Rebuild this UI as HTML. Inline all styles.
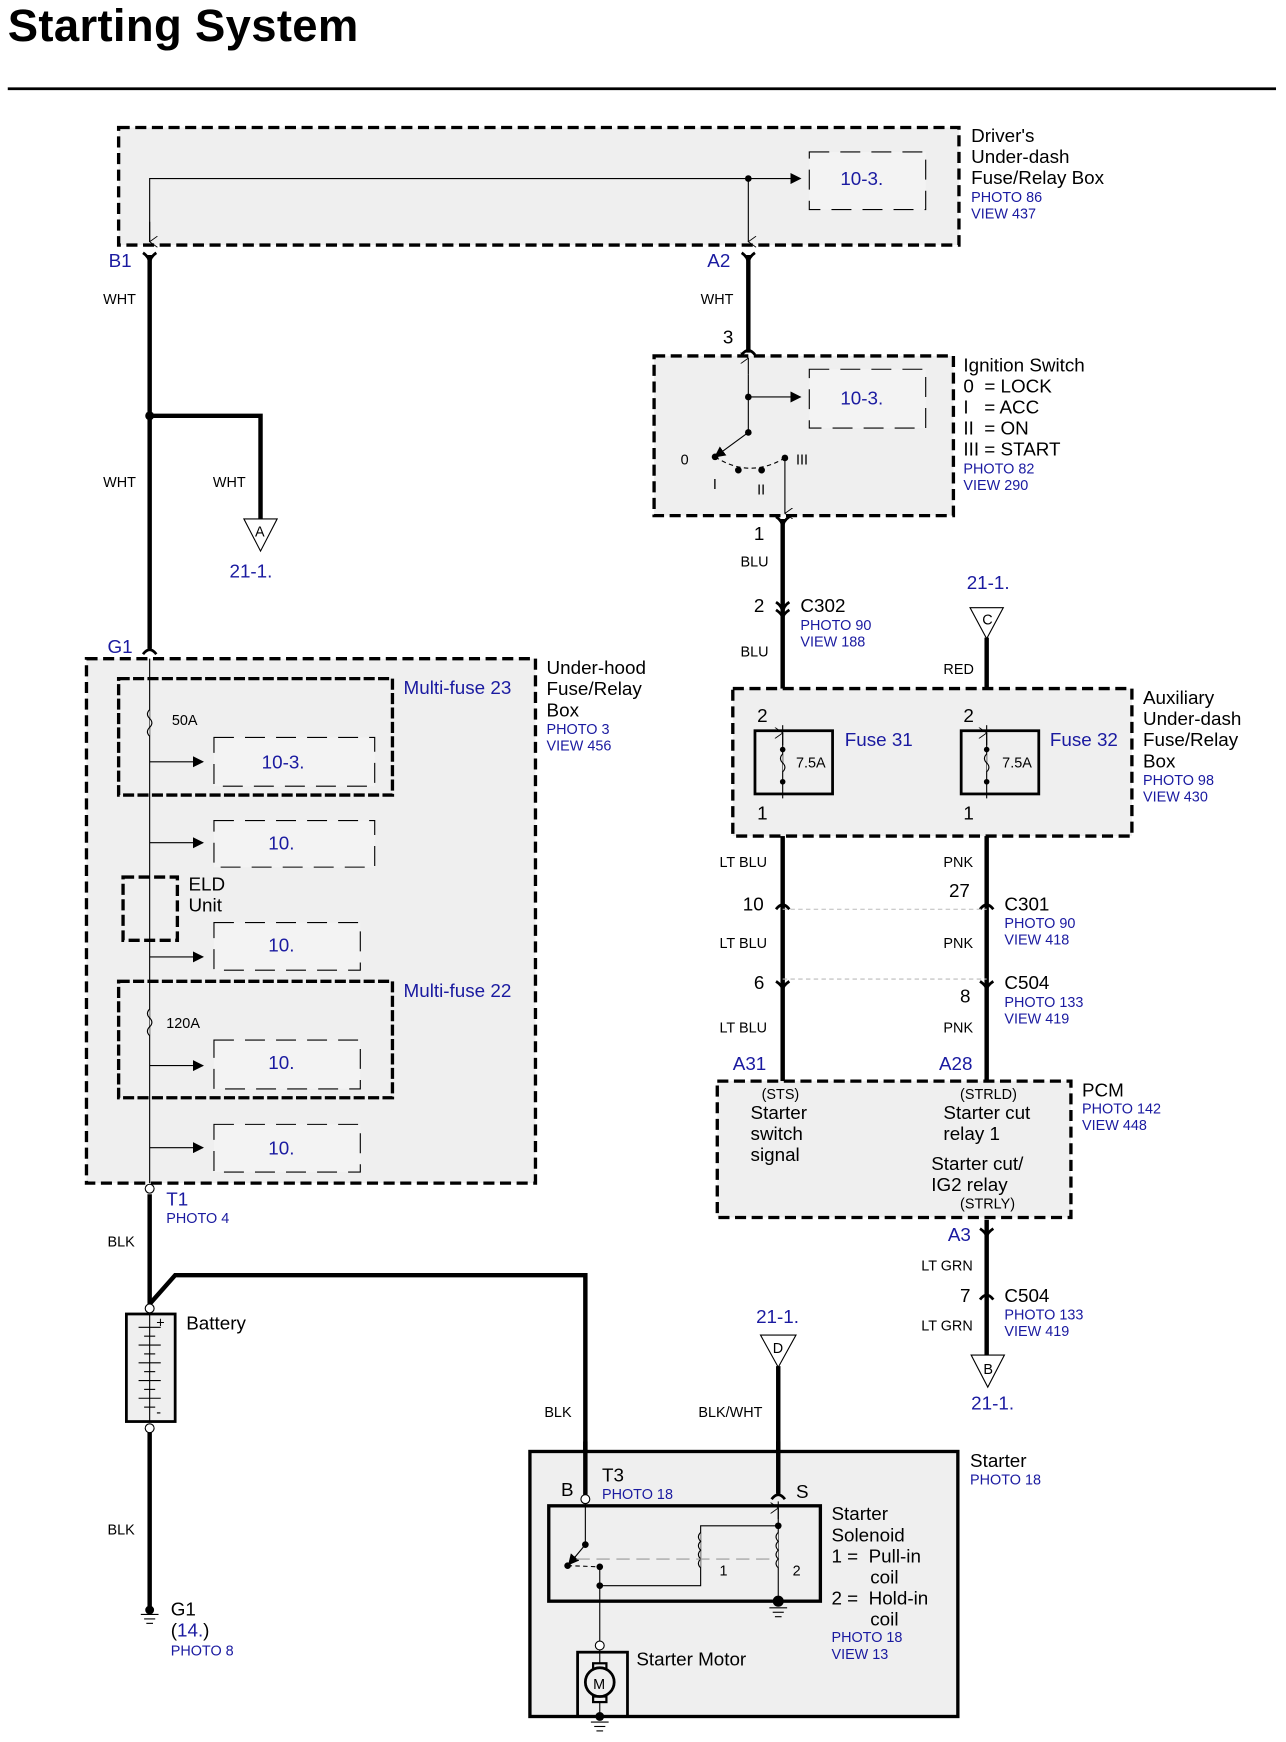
<!DOCTYPE html>
<html><head><meta charset="utf-8"><style>
html,body{margin:0;padding:0;background:#fff}
svg{display:block}
text{font-family:"Liberation Sans",Arial,sans-serif;fill:#000}
.b{fill:#1a1aa0}
.s{font-size:13px}
.m{font-size:17px}
.w{font-size:13px}
.pre{white-space:pre}
</style></head><body>
<svg width="1286" height="1742" viewBox="0 0 1160 1571" preserveAspectRatio="none" xmlns="http://www.w3.org/2000/svg">
<defs>
<marker id="ar" markerWidth="10" markerHeight="10" refX="9" refY="5" orient="auto" markerUnits="userSpaceOnUse"><path d="M0,0 L10,5 L0,10 z" fill="#000"/></marker>
<marker id="oa" markerWidth="10" markerHeight="10" refX="5" refY="9" orient="auto" markerUnits="userSpaceOnUse"><path d="M0,2 L5,9 L10,2" fill="none" stroke="#000" stroke-width="0.8"/></marker>
</defs>
<text x="7" y="37" style="font-size:41px;font-weight:bold;letter-spacing:0.3px">Starting System</text>
<line x1="7" y1="80" x2="1151" y2="80" stroke="#000" stroke-width="2.5"/>

<!-- Driver's box -->
<rect x="107" y="115" width="758" height="106" fill="#efefef" stroke="#000" stroke-width="3" stroke-dasharray="10,5"/>
<polyline points="135,218 135,161 722,161" fill="none" stroke="#000" stroke-width="1" marker-end="url(#ar)"/>
<line x1="135" y1="200" x2="135" y2="218" stroke="#000" marker-end="url(#oa)"/>
<line x1="675" y1="161" x2="675" y2="218" stroke="#000" marker-end="url(#oa)"/>
<circle cx="675" cy="161" r="3"/>
<rect x="730" y="137" width="105" height="52" fill="#f3f3f3" stroke="#000" stroke-dasharray="18,10"/>
<text x="758" y="167" class="m b">10-3.</text>
<text x="876" y="128" class="m">Driver's</text>
<text x="876" y="147" class="m">Under-dash</text>
<text x="876" y="166" class="m">Fuse/Relay Box</text>
<text x="876" y="182" class="s b">PHOTO 86</text>
<text x="876" y="197" class="s b">VIEW 437</text>
<text x="98" y="241" class="m b">B1</text>
<text x="638" y="241" class="m b">A2</text>

<g stroke="#000" stroke-width="4" fill="none">
<line x1="135" y1="230" x2="135" y2="585"/>
<polyline points="135,375 235,375 235,468"/>
<line x1="675" y1="230" x2="675" y2="318"/>
<line x1="706" y1="468" x2="706" y2="655"/>
<line x1="890" y1="575" x2="890" y2="655"/>
<line x1="706" y1="718" x2="706" y2="975"/>
<line x1="890" y1="718" x2="890" y2="975"/>
<line x1="890" y1="1100" x2="890" y2="1222"/>
<line x1="702" y1="1232" x2="702" y2="1345"/>
<line x1="135" y1="1077" x2="135" y2="1178"/>
<polyline points="135,1176 158,1150 528,1150 528,1348"/>
<line x1="135" y1="1292" x2="135" y2="1450"/>
</g>
<g stroke="#000" stroke-width="2.5" fill="none">
<path d="M129,228 Q135,232 135,238 Q135,232 141,228"/>
<path d="M669,228 Q675,232 675,238 Q675,232 681,228"/>
<path d="M129,590 Q135,582 141,590"/>
<path d="M669,320 Q675,312 681,320"/>
<path d="M700,466 Q706,470 706,476 Q706,470 712,466"/>
<path d="M700,543 Q706,547 706,553 Q706,547 712,543 M700,550 Q706,554 706,558 Q706,554 712,550"/>
<path d="M700,820 Q706,812 712,820 M884,820 Q890,812 896,820"/>
<path d="M700,885 Q706,889 706,893 Q706,889 712,885 M884,885 Q890,889 890,893 Q890,889 896,885"/>
<path d="M884,1108 Q890,1112 890,1116 Q890,1112 896,1108"/>
<path d="M884,1172 Q890,1164 896,1172"/>
<path d="M696,1352 Q702,1344 708,1352"/>
</g>
<line x1="706" y1="820" x2="890" y2="820" stroke="#bbb" stroke-dasharray="4,3"/>
<line x1="706" y1="883" x2="890" y2="883" stroke="#bbb" stroke-dasharray="4,3"/>
<circle cx="135" cy="375" r="4"/>

<text x="93" y="274" class="w">WHT</text>
<text x="632" y="274" class="w">WHT</text>
<text x="93" y="439" class="w">WHT</text>
<text x="192" y="439" class="w">WHT</text>
<path d="M220,468 L250,468 L235,497 z" fill="#fff" stroke="#000"/>
<text x="230" y="484" class="s">A</text>
<text x="207" y="521" class="m b">21-1.</text>
<text x="97" y="589" class="m b">G1</text>

<!-- Under-hood box -->
<rect x="78" y="594" width="405" height="473" fill="#efefef" stroke="#000" stroke-width="3" stroke-dasharray="10,5"/>
<line x1="135" y1="594" x2="135" y2="1067" stroke="#000"/>
<rect x="107" y="612" width="247" height="105" fill="none" stroke="#000" stroke-width="3" stroke-dasharray="10,3"/>
<rect x="107" y="885" width="247" height="105" fill="none" stroke="#000" stroke-width="3" stroke-dasharray="10,3"/>
<rect x="111" y="791" width="49" height="57" fill="none" stroke="#000" stroke-width="3" stroke-dasharray="10,4"/>
<path d="M135,640 q-4,4 0,8 q4,4 0,8 q-4,4 0,8" fill="#efefef" stroke="#000"/>
<path d="M135,910 q-4,4 0,8 q4,4 0,8 q-4,4 0,8" fill="#efefef" stroke="#000"/>
<text x="155" y="654" class="s">50A</text>
<text x="150" y="927" class="s">120A</text>
<g stroke="#000" fill="none">
<line x1="135" y1="687" x2="183" y2="687" marker-end="url(#ar)"/>
<line x1="135" y1="760" x2="183" y2="760" marker-end="url(#ar)"/>
<line x1="135" y1="863" x2="183" y2="863" marker-end="url(#ar)"/>
<line x1="135" y1="961" x2="183" y2="961" marker-end="url(#ar)"/>
<line x1="135" y1="1035" x2="183" y2="1035" marker-end="url(#ar)"/>
</g>
<g fill="#f3f3f3" stroke="#000" stroke-dasharray="18,10">
<rect x="193" y="665" width="145" height="44"/>
<rect x="193" y="740" width="145" height="42"/>
<rect x="193" y="832" width="132" height="43"/>
<rect x="193" y="938" width="132" height="44"/>
<rect x="193" y="1014" width="132" height="43"/>
</g>
<text x="236" y="693" class="m b">10-3.</text>
<text x="242" y="766" class="m b">10.</text>
<text x="242" y="858" class="m b">10.</text>
<text x="242" y="964" class="m b">10.</text>
<text x="242" y="1041" class="m b">10.</text>
<text x="364" y="626" class="m b">Multi-fuse 23</text>
<text x="364" y="899" class="m b">Multi-fuse 22</text>
<text x="170" y="803" class="m">ELD</text>
<text x="170" y="822" class="m">Unit</text>
<text x="493" y="608" class="m">Under-hood</text>
<text x="493" y="627" class="m">Fuse/Relay</text>
<text x="493" y="646" class="m">Box</text>
<text x="493" y="662" class="s b">PHOTO 3</text>
<text x="493" y="677" class="s b">VIEW 456</text>

<circle cx="135" cy="1072" r="4" fill="#fff" stroke="#000"/>
<text x="150" y="1087" class="m b">T1</text>
<text x="150" y="1103" class="s b">PHOTO 4</text>
<text x="97" y="1124" class="w">BLK</text>
<rect x="114" y="1185" width="44" height="97" fill="#efefef" stroke="#000" stroke-width="2.5"/>
<g stroke="#000">
<line x1="135" y1="1185" x2="135" y2="1282"/>
<line x1="125" y1="1197" x2="145" y2="1197"/><line x1="130" y1="1205" x2="140" y2="1205"/>
<line x1="125" y1="1213" x2="145" y2="1213"/><line x1="130" y1="1221" x2="140" y2="1221"/>
<line x1="125" y1="1229" x2="145" y2="1229"/><line x1="130" y1="1237" x2="140" y2="1237"/>
<line x1="125" y1="1245" x2="145" y2="1245"/><line x1="130" y1="1253" x2="140" y2="1253"/>
<line x1="125" y1="1261" x2="145" y2="1261"/><line x1="130" y1="1269" x2="140" y2="1269"/>
</g>
<text x="141" y="1197" class="s">+</text><text x="141" y="1278" class="s">-</text>
<circle cx="135" cy="1180" r="4" fill="#fff" stroke="#000"/>
<circle cx="135" cy="1288" r="4" fill="#fff" stroke="#000"/>
<text x="168" y="1199" class="m">Battery</text>
<text x="97" y="1384" class="w">BLK</text>
<circle cx="135" cy="1452" r="4"/>
<g stroke="#000"><line x1="127" y1="1456" x2="143" y2="1456"/><line x1="130" y1="1460" x2="140" y2="1460"/><line x1="132" y1="1464" x2="138" y2="1464"/></g>
<text x="154" y="1457" class="m">G1</text>
<text x="154" y="1476" class="m">(<tspan class="b">14.</tspan>)</text>
<text x="154" y="1493" class="s b">PHOTO 8</text>

<!-- Ignition -->
<text x="652" y="310" class="m">3</text>
<rect x="590" y="321" width="270" height="144" fill="#efefef" stroke="#000" stroke-width="3" stroke-dasharray="10,5"/>
<g stroke="#000" fill="none">
<line x1="675" y1="338" x2="675" y2="323" marker-end="url(#oa)"/>
<line x1="675" y1="338" x2="675" y2="390"/>
<line x1="675" y1="358" x2="722" y2="358" marker-end="url(#ar)"/>
<line x1="675" y1="390" x2="645" y2="412" marker-end="url(#ar)"/>
<path d="M645,412 Q676,432 708,413" stroke-dasharray="4,3"/>
<line x1="708" y1="413" x2="708" y2="463" marker-end="url(#oa)"/>
</g>
<circle cx="675" cy="358" r="3"/><circle cx="675" cy="390" r="3"/><circle cx="645" cy="412" r="3"/>
<circle cx="666" cy="424" r="3"/><circle cx="687" cy="424" r="3"/><circle cx="708" cy="413" r="3"/>
<rect x="730" y="333" width="105" height="53" fill="#f3f3f3" stroke="#000" stroke-dasharray="18,10"/>
<text x="758" y="365" class="m b">10-3.</text>
<text x="614" y="419" class="s">0</text><text x="643" y="441" class="s">I</text>
<text x="683" y="446" class="s">II</text><text x="718" y="419" class="s">III</text>
<text x="869" y="335" class="m">Ignition Switch</text>
<text x="869" y="354" class="m pre">0  = LOCK</text>
<text x="869" y="373" class="m pre">I   = ACC</text>
<text x="869" y="392" class="m pre">II  = ON</text>
<text x="869" y="411" class="m pre">III = START</text>
<text x="869" y="427" class="s b">PHOTO 82</text>
<text x="869" y="442" class="s b">VIEW 290</text>

<text x="680" y="487" class="m">1</text>
<text x="668" y="511" class="w">BLU</text>
<text x="680" y="552" class="m">2</text>
<text x="722" y="552" class="m">C302</text>
<text x="722" y="568" class="s b">PHOTO 90</text>
<text x="722" y="583" class="s b">VIEW 188</text>
<text x="668" y="592" class="w">BLU</text>
<text x="872" y="531" class="m b">21-1.</text>
<path d="M875,548 L905,548 L890,576 z" fill="#fff" stroke="#000"/>
<text x="886" y="563" class="s">C</text>
<text x="851" y="608" class="w">RED</text>

<!-- Aux box -->
<rect x="661" y="621" width="360" height="133" fill="#efefef" stroke="#000" stroke-width="3" stroke-dasharray="10,5"/>
<rect x="681" y="659" width="70" height="57" fill="none" stroke="#000" stroke-width="2.5"/>
<rect x="867" y="659" width="70" height="57" fill="none" stroke="#000" stroke-width="2.5"/>
<g stroke="#000" fill="none">
<line x1="706" y1="654" x2="706" y2="720"/><line x1="890" y1="654" x2="890" y2="720"/>
<path d="M706,680 q-4,4 0,8 q4,4 0,8" fill="#efefef"/>
<path d="M890,680 q-4,4 0,8 q4,4 0,8" fill="#efefef"/>
<line x1="706" y1="672" x2="706" y2="661" marker-end="url(#oa)"/>
<line x1="890" y1="672" x2="890" y2="661" marker-end="url(#oa)"/>
</g>
<circle cx="706" cy="676" r="2.5"/><circle cx="706" cy="705" r="2.5"/>
<circle cx="890" cy="676" r="2.5"/><circle cx="890" cy="705" r="2.5"/>
<text x="683" y="651" class="m">2</text><text x="683" y="739" class="m">1</text>
<text x="869" y="651" class="m">2</text><text x="869" y="739" class="m">1</text>
<text x="718" y="692" class="s">7.5A</text><text x="904" y="692" class="s">7.5A</text>
<text x="762" y="673" class="m b">Fuse 31</text>
<text x="947" y="673" class="m b">Fuse 32</text>
<text x="1031" y="635" class="m">Auxiliary</text>
<text x="1031" y="654" class="m">Under-dash</text>
<text x="1031" y="673" class="m">Fuse/Relay</text>
<text x="1031" y="692" class="m">Box</text>
<text x="1031" y="708" class="s b">PHOTO 98</text>
<text x="1031" y="723" class="s b">VIEW 430</text>

<text x="649" y="782" class="w">LT BLU</text><text x="851" y="782" class="w">PNK</text>
<text x="670" y="821" class="m">10</text><text x="856" y="809" class="m">27</text>
<text x="906" y="821" class="m">C301</text>
<text x="906" y="837" class="s b">PHOTO 90</text>
<text x="906" y="852" class="s b">VIEW 418</text>
<text x="649" y="855" class="w">LT BLU</text><text x="851" y="855" class="w">PNK</text>
<text x="680" y="892" class="m">6</text><text x="866" y="904" class="m">8</text>
<text x="906" y="892" class="m">C504</text>
<text x="906" y="908" class="s b">PHOTO 133</text>
<text x="906" y="923" class="s b">VIEW 419</text>
<text x="649" y="931" class="w">LT BLU</text><text x="851" y="931" class="w">PNK</text>
<text x="661" y="965" class="m b">A31</text><text x="847" y="965" class="m b">A28</text>

<!-- PCM -->
<rect x="647" y="975" width="319" height="123" fill="#efefef" stroke="#000" stroke-width="3" stroke-dasharray="10,5"/>
<text x="687" y="991" class="s">(STS)</text>
<text x="677" y="1009" class="m">Starter</text>
<text x="677" y="1028" class="m">switch</text>
<text x="677" y="1047" class="m">signal</text>
<text x="866" y="991" class="s">(STRLD)</text>
<text x="851" y="1009" class="m">Starter cut</text>
<text x="851" y="1028" class="m">relay 1</text>
<text x="840" y="1055" class="m">Starter cut/</text>
<text x="840" y="1074" class="m">IG2 relay</text>
<text x="866" y="1090" class="s">(STRLY)</text>
<text x="976" y="989" class="m">PCM</text>
<text x="976" y="1004" class="s b">PHOTO 142</text>
<text x="976" y="1019" class="s b">VIEW 448</text>
<text x="855" y="1119" class="m b">A3</text>
<text x="831" y="1146" class="w">LT GRN</text>
<text x="866" y="1174" class="m">7</text>
<text x="906" y="1174" class="m">C504</text>
<text x="906" y="1190" class="s b">PHOTO 133</text>
<text x="906" y="1205" class="s b">VIEW 419</text>
<text x="831" y="1200" class="w">LT GRN</text>
<path d="M876,1222 L906,1222 L891,1251 z" fill="#fff" stroke="#000"/>
<text x="887" y="1239" class="s">B</text>
<text x="876" y="1271" class="m b">21-1.</text>

<text x="682" y="1193" class="m b">21-1.</text>
<path d="M686,1204 L718,1204 L702,1233 z" fill="#fff" stroke="#000"/>
<text x="697" y="1220" class="s">D</text>
<text x="630" y="1278" class="w">BLK/WHT</text>
<text x="491" y="1278" class="w">BLK</text>

<!-- Starter -->
<rect x="478" y="1309" width="386" height="239" fill="#efefef" stroke="#000" stroke-width="3"/>
<line x1="528" y1="1300" x2="528" y2="1348" stroke="#000" stroke-width="4"/>
<line x1="702" y1="1300" x2="702" y2="1347" stroke="#000" stroke-width="4"/>
<path d="M696,1352 Q702,1344 708,1352" stroke="#000" stroke-width="2.5" fill="none"/>
<text x="875" y="1323" class="m">Starter</text>
<text x="875" y="1339" class="s b">PHOTO 18</text>
<text x="506" y="1349" class="m">B</text>
<text x="543" y="1336" class="m">T3</text>
<text x="543" y="1352" class="s b">PHOTO 18</text>
<text x="718" y="1351" class="m">S</text>
<rect x="495" y="1358" width="245" height="86" fill="none" stroke="#000" stroke-width="3"/>
<g stroke="#000" fill="none">
<line x1="528" y1="1356" x2="528" y2="1393"/>
<line x1="528" y1="1393" x2="513" y2="1411" marker-end="url(#ar)"/>
<path d="M512,1412 L541,1413" stroke-dasharray="4,3"/>
<line x1="541" y1="1413" x2="541" y2="1480"/>
<polyline points="541,1430 632,1430 632,1376 702,1376"/>
<line x1="702" y1="1354" x2="702" y2="1444"/>
<line x1="702" y1="1370" x2="702" y2="1360" marker-end="url(#oa)"/>
<path d="M632,1382 q-4,4 0,8 q-4,4 0,8 q-4,4 0,8 q-4,4 0,8" fill="#efefef"/>
<path d="M702,1382 q-4,4 0,8 q-4,4 0,8 q-4,4 0,8 q-4,4 0,8" fill="#efefef"/>
<line x1="520" y1="1406" x2="700" y2="1406" stroke="#999" stroke-dasharray="12,6"/>
</g>
<circle cx="528" cy="1352" r="4" fill="#fff" stroke="#000"/>
<circle cx="528" cy="1393" r="3"/><circle cx="512" cy="1412" r="3"/><circle cx="541" cy="1413" r="3"/>
<circle cx="541" cy="1430" r="3"/><circle cx="702" cy="1376" r="3"/><circle cx="702" cy="1444" r="5"/>
<g stroke="#000"><line x1="694" y1="1450" x2="710" y2="1450"/><line x1="697" y1="1454" x2="707" y2="1454"/><line x1="699" y1="1458" x2="705" y2="1458"/></g>
<text x="649" y="1421" class="s">1</text><text x="715" y="1421" class="s">2</text>
<text x="750" y="1371" class="m">Starter</text>
<text x="750" y="1390" class="m">Solenoid</text>
<text x="750" y="1409" class="m pre">1 =  Pull-in</text>
<text x="785" y="1428" class="m">coil</text>
<text x="750" y="1447" class="m pre">2 =  Hold-in</text>
<text x="785" y="1466" class="m">coil</text>
<text x="750" y="1481" class="s b">PHOTO 18</text>
<text x="750" y="1496" class="s b">VIEW 13</text>
<circle cx="541" cy="1484" r="4" fill="#fff" stroke="#000"/>
<rect x="521" y="1490" width="45" height="58" fill="none" stroke="#000" stroke-width="2.5"/>
<line x1="541" y1="1488" x2="541" y2="1548" stroke="#000"/>
<rect x="535" y="1500" width="12" height="5" fill="#efefef" stroke="#000" stroke-width="2"/>
<rect x="535" y="1530" width="12" height="5" fill="#efefef" stroke="#000" stroke-width="2"/>
<circle cx="541" cy="1517" r="13" fill="#efefef" stroke="#000" stroke-width="2.5"/>
<text x="535" y="1523" class="s">M</text>
<circle cx="541" cy="1548" r="4"/>
<g stroke="#000"><line x1="533" y1="1553" x2="549" y2="1553"/><line x1="536" y1="1557" x2="546" y2="1557"/><line x1="538" y1="1561" x2="544" y2="1561"/></g>
<text x="574" y="1502" class="m">Starter Motor</text>
</svg>
</body></html>
